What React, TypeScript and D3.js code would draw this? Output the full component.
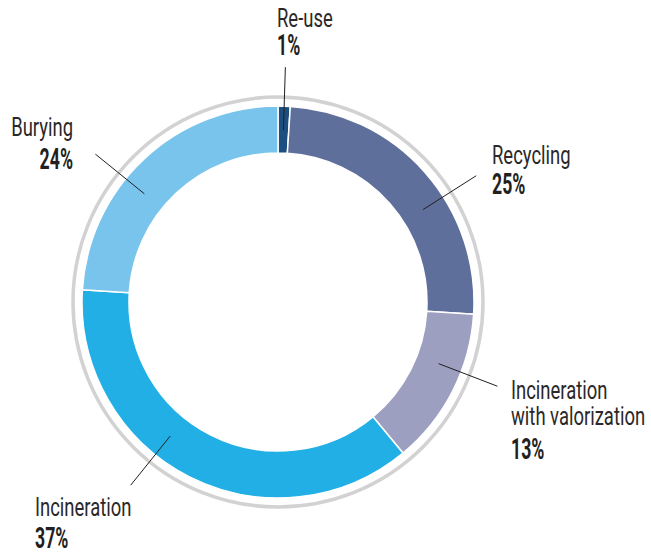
import React from "react";
import * as d3 from "d3";

const categories = ["Re-use", "Recycling", "Incineration\nwith valorization", "Incineration", "Burying"];
const values = [1, 25, 13, 37, 24];
const colors = ["#1c4f80", "#5e6f9b", "#9c9fbf", "#22afe5", "#79c4ed"];

// layout: leader-line angle (deg, clockwise from top), label anchor
const leaderAngles = [1.8, 57.5, 111, 218.8, 309];
const labelPos = [
  { x: 277, y: 27, anchor: "start" },
  { x: 492, y: 164, anchor: "start" },
  { x: 511, y: 399, anchor: "start" },
  { x: 35, y: 516, anchor: "start" },
  { x: 73, y: 136, anchor: "end" },
];
const pctGap = [28, 30, 34, 32, 33];

const W = 651;
const H = 556;
const cx = 278;
const cy = 302;
const rOuter = 196;
const rInner = 149;
const rRing = 205;

export default function App() {
  const pie = d3.pie<number>().sort(null).value((d) => d)(values);
  const arc = d3.arc<d3.PieArcDatum<number>>().innerRadius(rInner).outerRadius(rOuter);
  const polar = (deg: number, r: number) => {
    const a = (deg * Math.PI) / 180;
    return [cx + r * Math.sin(a), cy - r * Math.cos(a)];
  };
  const labelFont = "Roboto, 'DejaVu Sans', sans-serif";
  return (
    <svg width={W} height={H} style={{ position: "absolute", left: 0, top: 0 }}>
      <rect width={W} height={H} fill="#fff" />
      <circle cx={cx} cy={cy} r={rRing} fill="none" stroke="#d2d2d2" strokeWidth={3.5} />
      <g transform={`translate(${cx},${cy})`}>
        {pie.map((p, i) => (
          <path key={i} d={arc(p) || ""} fill={colors[i]} stroke="#fff" strokeWidth={1.5} />
        ))}
      </g>
      {leaderAngles.map((a, i) => {
        const [x1, y1] = polar(a, 172);
        const [x2, y2] = polar(a, 235);
        return <line key={i} x1={x1} y1={y1} x2={x2} y2={y2} stroke="#231f20" strokeWidth={1} />;
      })}
      {categories.map((c, i) => {
        const lines = c.split("\n");
        const lp = labelPos[i];
        const lastBase = lp.y + (lines.length - 1) * 26;
        return (
          <g key={i}>
            {lines.map((ln, j) => (
              <text
                key={j}
                transform={`translate(${lp.x},${lp.y + j * 26}) scale(0.71,1)`}
                textAnchor={lp.anchor}
                fontFamily={labelFont}
                fontSize={26}
                fill="#2b2829"
              >
                {ln}
              </text>
            ))}
            <text
              transform={`translate(${lp.x},${lastBase + pctGap[i]}) scale(0.59,1)`}
              textAnchor={lp.anchor}
              fontFamily={labelFont}
              fontSize={30}
              fontWeight={700}
              fill="#231f20"
            >
              {values[i]}%
            </text>
          </g>
        );
      })}
    </svg>
  );
}
